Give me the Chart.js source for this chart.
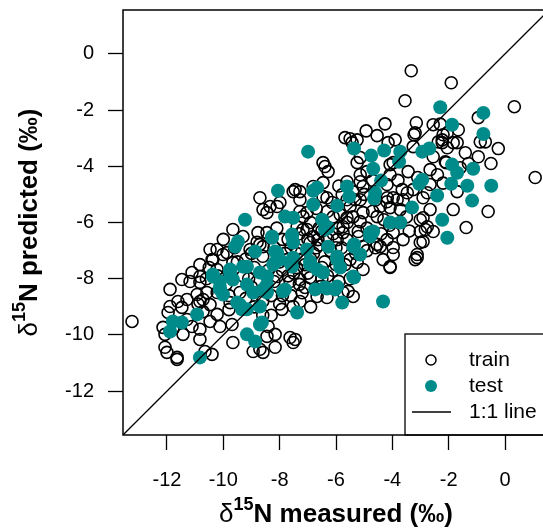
<!DOCTYPE html>
<html>
<head>
<meta charset="utf-8">
<script src="https://cdn.jsdelivr.net/npm/chart.js@4.4.1/dist/chart.umd.min.js"></script>
<style>
  html, body { margin: 0; padding: 0; background: #fff; overflow: hidden; }
</style>
</head>
<body>
<canvas id="plot" width="560" height="529"></canvas>
<script>
// axis setup (per mil)
const axisRange = [-13.56, 1.56];
const xTicks = [-12, -10, -8, -6, -4, -2, 0];
const yTicks = [-12, -10, -8, -6, -4, -2, 0];
const oneToOne = [-15, 3];

// [measured, predicted]
const trainPoints = [
  [-13.24,-9.52], [-3.33,-0.6], [-1.91,-1.03], [-3.55,-1.67], [0.33,-1.88], [1.07,-4.4],
  [-4.26,-2.49], [-3.15,-2.45], [-2.55,-2.52], [-4.93,-2.74], [-4.54,-2.91], [-5.5,-3.02],
  [-5.25,-3.06], [-3.9,-3.06], [-3.23,-2.88], [-2.2,-2.88], [-1.7,-3.16], [-2.23,-3.16],
  [-3.26,-3.3], [-0.88,-3.13], [-0.24,-3.37], [-0.95,-3.66], [-1.41,-3.52], [-2.55,-3.66],
  [-2.09,-3.87], [-6.46,-3.87], [-6.39,-4.01], [-3.44,-4.19], [-3.97,-3.87], [-5.14,-4.3],
  [-4.08,-4.3], [-3.26,-4.83], [-2.76,-4.94], [-1.7,-4.9], [-3.47,-4.94], [-3.83,-5.19],
  [-4.18,-5.12], [-5.14,-5.19], [-5.61,-5.19], [-6.32,-5.12], [-7.52,-4.9], [-7.28,-4.9],
  [-6.46,-4.58], [-6.81,-4.72], [-8.7,-5.12], [-8.34,-5.43], [-7.99,-5.29], [-7.28,-5.61],
  [-1.84,-5.54], [-0.6,-5.61], [-1.38,-6.18], [-2.55,-6.32], [-3.01,-5.9], [-2.83,-6.25],
  [-3.62,-5.19], [-5.04,-5.65], [-4.54,-5.79], [-5.14,-5.97], [-3.97,-6.36], [-4.54,-6.78],
  [-3.97,-6.89], [-3.12,-7.25], [-4.33,-7.32], [-4.08,-7.57], [-5.75,-6.36], [-8.45,-5.65],
  [-8.45,-6.36], [-8.7,-6.78], [-7.17,-6.25], [-5.85,-5.72], [-7.03,-5.65], [-5.5,-5.43],
  [-0.95,-2.27], [-1.66,-2.7], [-2.23,-3.06], [-1.84,-3.16], [-2.05,-3.34], [-0.7,-3.13],
  [-2.12,-3.84], [-1.59,-4.05], [-2.66,-4.65], [-2.91,-5.12], [-2.91,-6.68],
  [-3.19,-2.81], [-2.3,-2.5], [-2.05,-2.81], [-2.37,-3.13], [-5.68,-2.98], [-5.43,-3.16],
  [-4.15,-3.16], [-5.14,-3.69], [-4.08,-3.94], [-6.28,-4.19], [-4.9,-4.19], [-2.66,-4.12],
  [-5.61,-4.55], [-5.14,-4.55], [-5.04,-4.72], [-4.19,-4.65], [-3.97,-5.12], [-4.19,-5.26],
  [-3.65,-4.83], [-4.08,-5.47], [-5.32,-5.19], [-5.78,-5.01], [-6.14,-5.29], [-4.43,-5.43],
  [-3.72,-5.54], [-2.66,-5.54], [-2.91,-5.83], [-5.61,-5.83], [-5.21,-6.32], [-3.01,-6.32],
  [-2.76,-6.15], [-4.19,-6.61], [-3.62,-6.61], [-4.43,-6.86], [-3.01,-6.71], [-3.12,-7.14],
  [-3.97,-7.14], [-5.04,-6.86], [-6.46,-5.08],
  [-5.25,-3.87], [-7.45,-4.83], [-8.59,-5.54], [-8.09,-5.43], [-8.77,-6.36], [-9.66,-6.25],
  [-10.22,-6.96], [-10.01,-7.14], [-10.4,-7.32], [-7.28,-5.19], [-7.17,-5.79], [-7.38,-6.15],
  [-7.03,-6.25], [-6.64,-6.61], [-5.96,-6.61], [-5.61,-6.61], [-5.75,-6.15], [-6.92,-6.71],
  [-7.38,-6.96], [-8.59,-6.86], [-9.05,-6.96], [-7.74,-7.32], [-5.5,-7.32], [-5.25,-7.42],
  [-7.28,-8.03], [-6.56,-8.28], [-5.75,-8.49], [-6.67,-8.63], [-5.39,-8.63], [-8.09,-7.92],
  [-9.41,-8.49],
  [-10.47,-6.96], [-9.87,-7.07], [-10.37,-7.32], [-10.83,-7.5], [-11.11,-7.78], [-11.47,-8.03],
  [-11.18,-8.1], [-10.83,-8.13], [-11.89,-8.38], [-10.93,-8.56], [-10.58,-8.49], [-10.22,-8.49],
  [-11.61,-8.81], [-11.89,-8.99], [-11.47,-9.02], [-11.96,-9.2], [-10.83,-8.81], [-10.47,-8.92],
  [-10.72,-9.17], [-10.22,-9.27], [-10.47,-9.52], [-11.11,-9.7], [-10.83,-9.8], [-11.43,-9.98],
  [-10.83,-10.16], [-12.14,-9.73], [-12.07,-9.98], [-12.07,-10.44], [-12.0,-10.62], [-11.64,-10.8],
  [-10.65,-10.59], [-10.4,-10.69], [-11.79,-9.8], [-9.69,-9.63], [-9.66,-10.27], [-8.59,-10.62],
  [-8.94,-10.59], [-9.76,-8.85], [-11.29,-9.45], [-10.12,-9.7],
  [-8.7,-10.51], [-8.16,-10.44], [-7.52,-10.27], [-7.45,-10.16], [-8.45,-10.05], [-8.16,-9.98],
  [-7.63,-10.09], [-8.41,-9.7], [-7.92,-9.09], [-7.52,-8.99], [-7.28,-8.81], [-6.32,-8.67],
  [-5.57,-8.45], [-7.1,-8.31], [-7.63,-8.1], [-6.92,-7.96], [-4.08,-7.6], [-3.19,-7.32],
  [-5.04,-7.67], [-5.68,-7.5],
  [-11.64,-10.87], [-11.29,-8.74], [-10.72,-8.74], [-10.83,-7.92], [-10.22,-7.67], [-9.66,-7.42],
  [-9.2,-7.3], [-8.9,-7.6], [-8.6,-7.2], [-8.4,-7.7], [-8.8,-8.1], [-9.0,-8.3], [-8.3,-8.6],
  [-7.9,-7.7], [-7.7,-7.9], [-7.4,-7.6], [-7.2,-7.3], [-7.0,-7.8], [-6.8,-7.1], [-6.6,-6.8],
  [-6.4,-7.4], [-6.2,-7.0], [-6.0,-6.9], [-6.5,-6.3], [-6.9,-6.0], [-6.1,-5.8], [-5.8,-6.9],
  [-6.3,-5.6], [-6.7,-5.5], [-7.6,-6.9], [-7.9,-6.6], [-8.2,-6.9], [-8.6,-8.8], [-9.1,-8.0],
  [-9.9,-8.2], [-9.5,-7.4], [-7.2,-8.5], [-6.9,-9.0], [-6.3,-7.9], [-5.5,-8.0], [-5.2,-6.5],
  [-4.9,-6.2], [-4.7,-5.6], [-4.3,-5.9], [-6.8,-6.5], [-7.4,-7.1], [-8.0,-8.9], [-8.6,-9.3],
  [-9.8,-9.1], [-10.6,-8.0], [-10.9,-8.9],
  [-9.3,-7.9], [-9.0,-7.1], [-8.8,-6.7], [-8.5,-8.3], [-8.2,-8.1], [-8.0,-7.4], [-7.8,-7.1],
  [-7.5,-7.8], [-7.3,-8.2], [-7.1,-7.5], [-6.9,-7.3], [-6.7,-6.9], [-6.5,-7.6], [-6.3,-6.6],
  [-6.1,-6.4], [-5.9,-6.2], [-5.6,-6.0], [-5.4,-5.8], [-6.6,-6.2], [-7.0,-6.6], [-7.3,-6.4],
  [-7.7,-6.6], [-8.1,-6.2], [-9.6,-6.9], [-9.3,-6.5], [-10.0,-6.6], [-10.2,-7.9], [-10.5,-7.6],
  [-9.8,-8.6], [-9.2,-8.7], [-8.9,-9.0], [-8.3,-9.3], [-7.9,-8.6], [-7.6,-8.6], [-6.1,-7.7],
  [-5.9,-8.1], [-6.5,-8.0], [-6.0,-7.5], [-5.3,-7.1], [-4.9,-7.0], [-4.6,-6.9], [-4.4,-6.4],
  [-4.1,-6.1], [-3.4,-6.3], [-3.5,-5.8], [-4.6,-5.2], [-5.0,-5.0], [-5.4,-4.9], [-5.9,-4.7],
  [-4.7,-4.5], [-3.8,-4.5], [-3.1,-4.4], [-2.4,-4.3], [-2.2,-4.6], [-1.3,-3.9], [-0.5,-3.9]
];

const testPoints = [
  [-2.3,-1.9], [-0.77,-2.1], [-1.88,-2.52], [-0.77,-2.85], [-6.99,-3.48], [-5.36,-3.37],
  [-4.75,-3.62], [-4.29,-3.44], [-3.72,-3.48], [-3.76,-3.84], [-2.94,-3.48], [-2.69,-3.37],
  [-4.68,-4.09], [-1.88,-3.94], [-1.7,-4.23], [-1.13,-4.09], [-0.49,-4.69], [-1.91,-4.62],
  [-1.34,-4.69], [-1.17,-5.22], [-4.4,-4.51], [-2.94,-4.48], [-3.05,-4.62], [-2.41,-5.04],
  [-4.61,-4.94], [-4.65,-5.15], [-5.61,-4.72], [-5.53,-5.08], [-8.06,-4.87], [-6.81,-4.87],
  [-6.81,-5.36], [-5.96,-5.4], [-3.3,-5.47], [-2.23,-5.9], [-2.05,-6.54], [-4.08,-6.0],
  [-3.72,-6.0], [-7.81,-5.79], [-7.52,-5.83], [-6.49,-5.9], [-6.39,-6.25], [-4.79,-6.36],
  [-8.27,-6.54], [-7.56,-6.43], [-7.52,-6.71], [-6.28,-6.86], [-5.36,-6.78], [-5.14,-7.14],
  [-8.16,-7.03], [-8.16,-7.42], [-7.52,-7.25], [-6.92,-7.39], [-5.96,-7.32],
  [-4.33,-8.81], [-5.78,-8.85], [-5.36,-7.96], [-7.38,-9.2], [-6.74,-8.38], [-6.03,-8.38],
  [-6.32,-8.35], [-7.88,-8.45], [-8.63,-9.56], [-8.23,-7.5], [-7.56,-7.57], [-6.92,-7.5],
  [-6.46,-7.78], [-5.85,-7.6], [-8.45,-8.21],
  [-11.79,-9.52], [-11.89,-9.88], [-11.47,-9.56], [-10.93,-9.27], [-10.83,-10.8], [-10.37,-7.85],
  [-9.76,-7.78], [-9.16,-7.57], [-8.7,-7.78], [-10.12,-8.38], [-9.41,-8.92], [-9.16,-9.09],
  [-8.7,-9.63], [-9.16,-9.98], [-8.87,-10.23], [-8.45,-8.49], [-8.94,-8.49],
  [-10.12,-8.1], [-9.58,-6.86], [-8.87,-7.03], [-9.76,-7.67], [-9.3,-7.57], [-9.66,-8.03],
  [-9.51,-8.85], [-9.34,-9.09], [-8.7,-8.99], [-8.59,-8.38], [-10.01,-8.56],
  [-9.23,-5.9], [-9.48,-6.68], [-8.27,-6.5], [-7.56,-6.5], [-6.67,-4.76], [-6.28,-6.18],
  [-5.39,-6.86], [-7.03,-6.96], [-8.09,-7.07], [-7.99,-7.32], [-7.63,-7.42], [-6.67,-7.67],
  [-5.39,-7.92], [-5.96,-8.28], [-7.81,-8.38], [-8.45,-7.92], [-10.37,-7.92], [-10.12,-8.31],
  [-9.16,-8.21], [-6.39,-8.31], [-4.68,-6.32], [-4.79,-6.5], [-5.96,-7.21]
];

const toXY = pts => pts.map(p => ({ x: p[0], y: p[1] }));
const TEAL = '#008b8b';
const FONT = "'Liberation Sans', Arial, sans-serif";

function fixTicks(values) {
  return function (scale) {
    scale.ticks = values.map(v => ({ value: v }));
  };
}

// draws δ¹⁵N title with a real superscript
function drawTitle(ctx, word, cx, cy) {
  const parts = [
    { t: '\u03b4', f: '26px ' + FONT, dy: 0 },
    { t: '15', f: 'bold 18px ' + FONT, dy: -10 },
    { t: 'N ' + word + ' (\u2030)', f: 'bold 26px ' + FONT, dy: 0 }
  ];
  let w = 0;
  parts.forEach(p => { ctx.font = p.f; p.w = ctx.measureText(p.t).width; w += p.w; });
  let x = cx - w / 2;
  ctx.textBaseline = 'middle';
  ctx.textAlign = 'left';
  ctx.fillStyle = '#000';
  parts.forEach(p => { ctx.font = p.f; ctx.fillText(p.t, x, cy + p.dy); x += p.w; });
}

const framePlugin = {
  id: 'frame',
  afterDatasetsDraw(chart) {
    const ctx = chart.ctx;
    const a = chart.chartArea;
    ctx.save();
    // legend box, bottom right
    const lx = a.right - 144, ly = a.bottom - 101;
    ctx.fillStyle = '#fff';
    ctx.fillRect(lx, ly, a.right - lx, a.bottom - ly);
    ctx.strokeStyle = '#000';
    ctx.lineWidth = 1.3;
    ctx.strokeRect(lx, ly, a.right - lx, a.bottom - ly);
    const sx = lx + 26, tx = lx + 64;
    const rows = [ly + 26, ly + 52, ly + 78];
    ctx.beginPath();
    ctx.arc(sx, rows[0], 5, 0, Math.PI * 2);
    ctx.lineWidth = 1.5;
    ctx.stroke();
    ctx.beginPath();
    ctx.arc(sx, rows[1], 6, 0, Math.PI * 2);
    ctx.fillStyle = TEAL;
    ctx.fill();
    ctx.beginPath();
    ctx.moveTo(sx - 19, rows[2]);
    ctx.lineTo(sx + 20, rows[2]);
    ctx.lineWidth = 1.3;
    ctx.stroke();
    ctx.fillStyle = '#000';
    ctx.font = '21px ' + FONT;
    ctx.textBaseline = 'middle';
    ctx.textAlign = 'left';
    chart.data.datasets.forEach((d, i) => ctx.fillText(d.label, tx, rows[i]));
    // plot frame
    ctx.lineWidth = 1.5;
    ctx.strokeRect(a.left, a.top, a.right - a.left, a.bottom - a.top);
    // axis titles
    drawTitle(ctx, 'measured', (a.left + a.right) / 2, 515);
    ctx.translate(30, (a.top + a.bottom) / 2);
    ctx.rotate(-Math.PI / 2);
    drawTitle(ctx, 'predicted', 0, 0);
    ctx.restore();
  }
};

new Chart(document.getElementById('plot'), {
  type: 'scatter',
  data: {
    datasets: [
      {
        label: 'train',
        data: toXY(trainPoints),
        pointRadius: 6,
        pointBorderWidth: 1.6,
        pointBorderColor: '#000',
        pointBackgroundColor: 'rgba(0,0,0,0)',
        order: 3
      },
      {
        label: 'test',
        data: toXY(testPoints),
        pointRadius: 7,
        pointBorderWidth: 0,
        pointBackgroundColor: TEAL,
        pointBorderColor: TEAL,
        order: 2
      },
      {
        label: '1:1 line',
        type: 'line',
        data: oneToOne.map(v => ({ x: v, y: v })),
        borderColor: '#000',
        borderWidth: 1.3,
        pointRadius: 0,
        order: 1
      }
    ]
  },
  options: {
    responsive: false,
    animation: false,
    events: [],
    layout: { padding: { left: 0, right: 11, top: 10, bottom: 0 } },
    plugins: { legend: { display: false }, tooltip: { enabled: false } },
    scales: {
      x: {
        type: 'linear',
        min: axisRange[0],
        max: axisRange[1],
        afterBuildTicks: fixTicks(xTicks),
        afterFit(scale) { scale.height = 94; scale.paddingLeft = 0; scale.paddingRight = 0; },
        border: { display: false },
        grid: { drawOnChartArea: false, drawTicks: true, tickLength: 15, tickColor: '#000', tickWidth: 1.3 },
        ticks: { color: '#000', font: { family: FONT, size: 20 }, padding: 18, autoSkip: false, maxRotation: 0 }
      },
      y: {
        type: 'linear',
        min: axisRange[0],
        max: axisRange[1],
        afterBuildTicks: fixTicks(yTicks),
        afterFit(scale) { scale.width = 123; scale.paddingTop = 0; scale.paddingBottom = 0; },
        border: { display: false },
        grid: { drawOnChartArea: false, drawTicks: true, tickLength: 15, tickColor: '#000', tickWidth: 1.3 },
        ticks: { color: '#000', font: { family: FONT, size: 20 }, padding: 14, autoSkip: false }
      }
    }
  },
  plugins: [framePlugin]
});
</script>
</body>
</html>
